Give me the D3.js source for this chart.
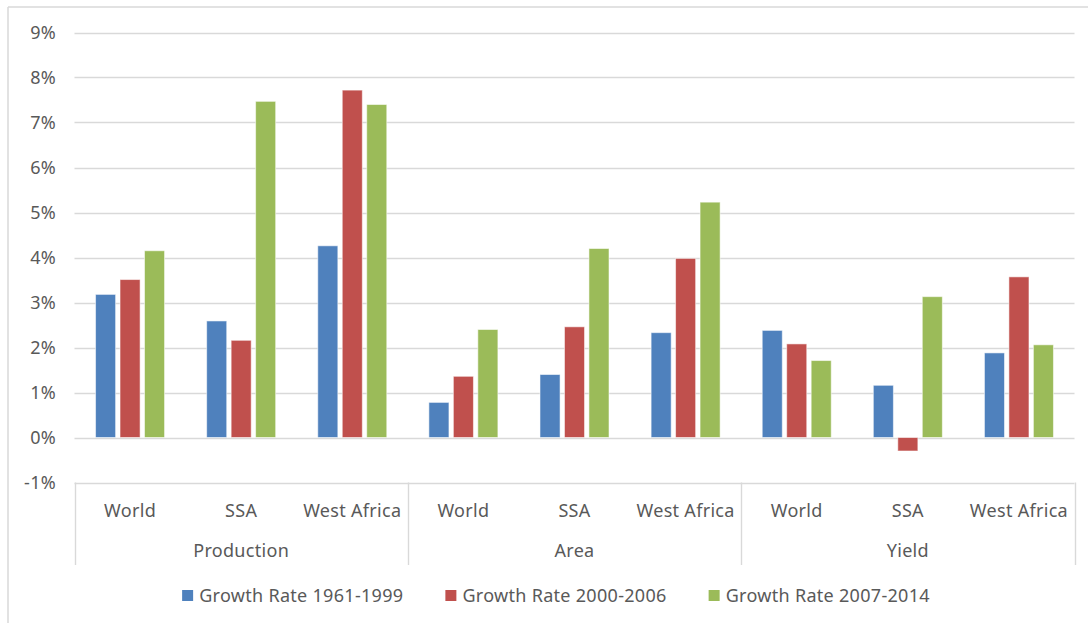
<!DOCTYPE html>
<html>
<head>
<meta charset="utf-8">
<script src="https://cdn.jsdelivr.net/npm/d3@7"></script>
<style>
  html, body { margin: 0; padding: 0; background: #fff; }
  svg { display: block; }
  text { font-family: "Noto Sans", "Open Sans", sans-serif; fill: #595959; letter-spacing: 0.3px; }
</style>
</head>
<body>
<svg id="chart" width="1088" height="623"></svg>
<script>
// Growth rates (%) by measure and region
const groups = ["Production", "Area", "Yield"];
const regions = ["World", "SSA", "West Africa"];
const seriesNames = ["Growth Rate 1961-1999", "Growth Rate 2000-2006", "Growth Rate 2007-2014"];
const seriesColors = ["#4F81BD", "#C0504D", "#9BBB59"];

// values ordered Production(World, SSA, West Africa), Area(...), Yield(...)
const rate1961_1999 = [3.18, 2.59, 4.26, 0.78, 1.40, 2.33, 2.38, 1.16, 1.88];
const rate2000_2006 = [3.51, 2.16, 7.72, 1.36, 2.46, 3.98, 2.08, -0.30, 3.57];
const rate2007_2014 = [4.15, 7.47, 7.40, 2.40, 4.20, 5.23, 1.71, 3.13, 2.06];

const yTicks = [-1, 0, 1, 2, 3, 4, 5, 6, 7, 8, 9];

const seriesValues = [rate1961_1999, rate2000_2006, rate2007_2014];

// flattened category keys: group|region
const cats = [];
groups.forEach(g => regions.forEach(r => cats.push(g + "|" + r)));

const svg = d3.select("#chart");
const plotLeft = 74.5, plotRight = 1074.5, plotTop = 32.5, plotBottom = 482.5;
const fontSize = "18px";

const x = d3.scaleBand().domain(cats).range([plotLeft, plotRight]).padding(0);
const xs = d3.scaleBand().domain(d3.range(3)).range([0, x.bandwidth()])
  .paddingInner(0.18).paddingOuter(0.86);
const y = d3.scaleLinear().domain([-1, 9]).range([plotBottom, plotTop]);

const grid = "#D9D9D9";

// outer frame (top and left edges)
svg.append("line").attr("x1", 8).attr("x2", 1088).attr("y1", 7).attr("y2", 7)
  .attr("stroke", grid).attr("stroke-width", 1.5);
svg.append("line").attr("x1", 8).attr("x2", 8).attr("y1", 7).attr("y2", 623)
  .attr("stroke", grid).attr("stroke-width", 1.5);

// horizontal gridlines
svg.append("g").selectAll("line").data(yTicks).join("line")
  .attr("x1", plotLeft).attr("x2", plotRight)
  .attr("y1", d => Math.round(y(d)) + 0.5).attr("y2", d => Math.round(y(d)) + 0.5)
  .attr("stroke", grid).attr("stroke-width", 1.4);

// y axis labels
const yAxis = d3.axisLeft(y).tickValues(yTicks).tickSize(0).tickPadding(0)
  .tickFormat(d => d + "%");
const yg = svg.append("g").attr("transform", `translate(56,0)`).call(yAxis);
yg.select(".domain").remove();
yg.selectAll("text").style("font-size", fontSize).attr("fill", "#595959")
  .attr("font-family", "Noto Sans");

// bars
const barData = [];
cats.forEach((c, i) => seriesValues.forEach((vals, s) => barData.push({ c, s, v: vals[i] })));
svg.append("g").selectAll("rect").data(barData).join("rect")
  .attr("x", d => x(d.c) + xs(d.s))
  .attr("width", xs.bandwidth())
  .attr("y", d => y(Math.max(0, d.v)))
  .attr("height", d => Math.abs(y(d.v) - y(0)))
  .attr("fill", d => seriesColors[d.s])
  .attr("stroke", "#ffffff").attr("stroke-opacity", 0.55).attr("stroke-width", 1);

// category axis box: vertical separators between measure groups
const sepY2 = 565;
const sepXs = [plotLeft, x(groups[1] + "|" + regions[0]), x(groups[2] + "|" + regions[0]), plotRight];
svg.append("g").selectAll("line").data(sepXs).join("line")
  .attr("x1", d => Math.round(d) + 0.5).attr("x2", d => Math.round(d) + 0.5)
  .attr("y1", plotBottom).attr("y2", sepY2)
  .attr("stroke", grid).attr("stroke-width", 1.4);

// region labels
svg.append("g").selectAll("text").data(cats).join("text")
  .attr("x", d => x(d) + x.bandwidth() / 2)
  .attr("y", 517)
  .attr("text-anchor", "middle")
  .style("font-size", fontSize)
  .text(d => d.split("|")[1]);

// measure labels
svg.append("g").selectAll("text").data(groups).join("text")
  .attr("x", g => x(g + "|" + regions[1]) + x.bandwidth() / 2)
  .attr("y", 557)
  .attr("text-anchor", "middle")
  .style("font-size", fontSize)
  .text(g => g);

// legend
const legend = svg.append("g");
const items = legend.selectAll("g").data(seriesNames).join("g");
items.append("rect").attr("width", 11).attr("height", 11)
  .attr("y", 590).attr("fill", (d, i) => seriesColors[i]);
items.append("text").attr("x", 17).attr("y", 602)
  .style("font-size", fontSize).text(d => d);
const widths = [];
items.each(function () { widths.push(this.getBBox().width); });
const gap = 42;
const total = d3.sum(widths) + gap * (widths.length - 1);
let cx = 556 - total / 2;
items.attr("transform", (d, i) => {
  const t = `translate(${cx},0)`;
  cx += widths[i] + gap;
  return t;
});
</script>
</body>
</html>
